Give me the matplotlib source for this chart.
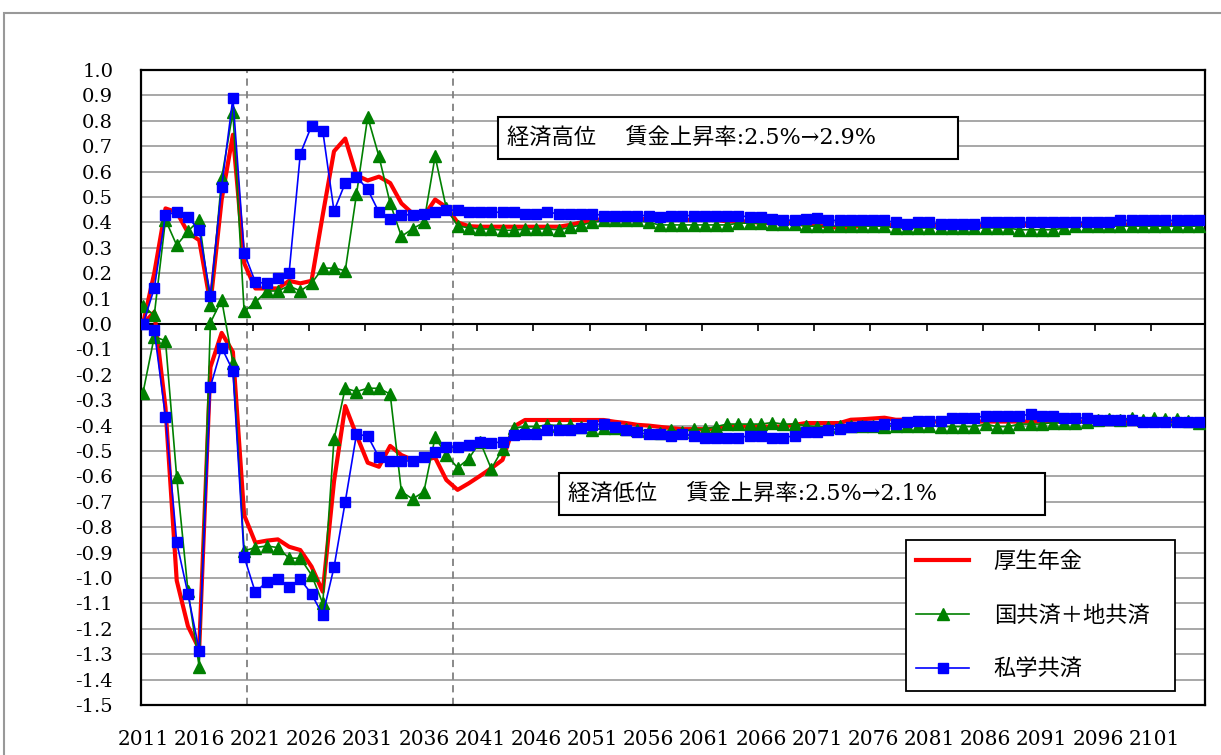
import numpy as np
import matplotlib
matplotlib.use("Agg")
import matplotlib.pyplot as plt
from matplotlib.patches import Rectangle

plt.rcParams['axes.unicode_minus'] = False

# ===============================
# DATA
# ===============================
years = list(range(2011, 2106))
xtick_years = list(range(2011, 2102, 5))

labels = ["厚生年金", "国共済＋地共済", "私学共済"]
text_high = "経済高位　 賃金上昇率:2.5%→2.9%"
text_low = "経済低位　 賃金上昇率:2.5%→2.1%"

# 経済高位
kosei_high = [
    0.00, 0.20, 0.455, 0.44, 0.36, 0.33, 0.08, 0.49, 0.745, 0.24,
    0.14, 0.14, 0.14, 0.17, 0.16, 0.17, 0.43, 0.68, 0.73, 0.585,
    0.565, 0.58, 0.555, 0.475, 0.435, 0.425, 0.49, 0.46, 0.40, 0.385,
    0.383, 0.383, 0.383, 0.383, 0.383, 0.383, 0.383, 0.383, 0.39, 0.40,
    0.408, 0.413, 0.413, 0.413, 0.413, 0.413, 0.413, 0.413, 0.41, 0.41,
    0.41, 0.41, 0.404, 0.404, 0.404, 0.397, 0.397, 0.397, 0.397, 0.39,
    0.39, 0.383, 0.378, 0.378, 0.39, 0.39, 0.39, 0.39, 0.39, 0.39,
    0.39, 0.39, 0.39, 0.39, 0.39, 0.39, 0.39, 0.39, 0.39, 0.39,
    0.39, 0.39, 0.39, 0.39, 0.39, 0.39, 0.39, 0.39, 0.39, 0.39,
    0.39, 0.39, 0.39, 0.39, 0.39,
]
kyosai_high = [
    0.07, 0.035, 0.41, 0.31, 0.365, 0.41, 0.075, 0.575, 0.835, 0.05,
    0.085, 0.13, 0.13, 0.15, 0.13, 0.16, 0.22, 0.22, 0.21, 0.51,
    0.815, 0.66, 0.475, 0.345, 0.375, 0.40, 0.66, 0.455, 0.387, 0.378,
    0.374, 0.374, 0.369, 0.369, 0.374, 0.374, 0.374, 0.371, 0.38, 0.39,
    0.40, 0.408, 0.408, 0.408, 0.408, 0.40, 0.39, 0.39, 0.39, 0.39,
    0.39, 0.39, 0.39, 0.397, 0.397, 0.397, 0.393, 0.393, 0.393, 0.385,
    0.385, 0.385, 0.385, 0.385, 0.385, 0.385, 0.385, 0.378, 0.378, 0.378,
    0.378, 0.378, 0.378, 0.378, 0.378, 0.378, 0.378, 0.378, 0.371, 0.371,
    0.371, 0.371, 0.378, 0.385, 0.385, 0.385, 0.385, 0.385, 0.385, 0.385,
    0.385, 0.385, 0.385, 0.385, 0.385,
]
shigaku_high = [
    0.00, 0.14, 0.43, 0.44, 0.42, 0.37, 0.11, 0.54, 0.89, 0.28,
    0.165, 0.16, 0.18, 0.20, 0.67, 0.78, 0.76, 0.445, 0.555, 0.58,
    0.53, 0.44, 0.415, 0.43, 0.43, 0.435, 0.44, 0.45, 0.447, 0.44,
    0.44, 0.44, 0.44, 0.44, 0.434, 0.434, 0.44, 0.434, 0.434, 0.434,
    0.434, 0.427, 0.427, 0.427, 0.427, 0.427, 0.421, 0.427, 0.427, 0.427,
    0.427, 0.427, 0.427, 0.427, 0.421, 0.421, 0.414, 0.41, 0.408, 0.413,
    0.417, 0.408, 0.408, 0.408, 0.408, 0.408, 0.408, 0.40, 0.393, 0.40,
    0.40, 0.393, 0.393, 0.393, 0.393, 0.40, 0.40, 0.40, 0.40, 0.40,
    0.40, 0.40, 0.40, 0.40, 0.40, 0.40, 0.40, 0.408, 0.408, 0.408,
    0.408, 0.408, 0.408, 0.408, 0.408,
]

# 経済低位
kosei_low = [
    0.00, 0.047, -0.33, -1.01, -1.19, -1.28, -0.17, -0.035, -0.11, -0.752,
    -0.861, -0.853, -0.848, -0.877, -0.89, -0.955, -1.054, -0.62, -0.323, -0.437,
    -0.546, -0.562, -0.48, -0.516, -0.535, -0.535, -0.526, -0.614, -0.653, -0.627,
    -0.598, -0.568, -0.535, -0.404, -0.378, -0.378, -0.378, -0.378, -0.378, -0.378,
    -0.378, -0.378, -0.385, -0.39, -0.397, -0.40, -0.405, -0.41, -0.414, -0.414,
    -0.414, -0.414, -0.404, -0.404, -0.404, -0.404, -0.404, -0.404, -0.397, -0.39,
    -0.39, -0.39, -0.39, -0.377, -0.375, -0.372, -0.369, -0.377, -0.377, -0.377,
    -0.384, -0.384, -0.384, -0.384, -0.384, -0.384, -0.384, -0.384, -0.384, -0.384,
    -0.384, -0.384, -0.384, -0.384, -0.384, -0.384, -0.384, -0.384, -0.384, -0.384,
    -0.384, -0.384, -0.384, -0.384, -0.384,
]
kyosai_low = [
    -0.27, -0.05, -0.066, -0.604, -1.05, -1.35, 0.005, 0.095, -0.153, -0.893,
    -0.88, -0.874, -0.88, -0.922, -0.922, -0.988, -1.10, -0.454, -0.253, -0.266,
    -0.253, -0.253, -0.276, -0.66, -0.689, -0.66, -0.446, -0.515, -0.566, -0.53,
    -0.463, -0.57, -0.493, -0.41, -0.404, -0.404, -0.397, -0.40, -0.397, -0.404,
    -0.418, -0.41, -0.41, -0.414, -0.418, -0.42, -0.43, -0.418, -0.424, -0.414,
    -0.414, -0.404, -0.394, -0.394, -0.394, -0.394, -0.388, -0.394, -0.394, -0.40,
    -0.404, -0.404, -0.40, -0.40, -0.40, -0.40, -0.404, -0.40, -0.40, -0.40,
    -0.40, -0.404, -0.404, -0.404, -0.404, -0.394, -0.404, -0.404, -0.394, -0.394,
    -0.394, -0.388, -0.39, -0.39, -0.385, -0.377, -0.373, -0.377, -0.369, -0.377,
    -0.369, -0.375, -0.375, -0.382, -0.388,
]
shigaku_low = [
    0.00, -0.025, -0.365, -0.86, -1.063, -1.286, -0.247, -0.093, -0.184, -0.916,
    -1.057, -1.015, -1.005, -1.034, -1.005, -1.063, -1.146, -0.958, -0.70, -0.434,
    -0.441, -0.525, -0.54, -0.538, -0.54, -0.525, -0.505, -0.485, -0.485, -0.477,
    -0.463, -0.47, -0.463, -0.436, -0.432, -0.435, -0.418, -0.418, -0.418, -0.41,
    -0.397, -0.393, -0.407, -0.418, -0.427, -0.434, -0.434, -0.44, -0.434, -0.44,
    -0.447, -0.447, -0.447, -0.447, -0.44, -0.44, -0.447, -0.447, -0.44, -0.427,
    -0.425, -0.418, -0.412, -0.407, -0.403, -0.40, -0.393, -0.393, -0.386, -0.38,
    -0.38, -0.38, -0.369, -0.369, -0.369, -0.362, -0.362, -0.362, -0.362, -0.355,
    -0.362, -0.362, -0.37, -0.37, -0.37, -0.377, -0.377, -0.377, -0.377, -0.386,
    -0.386, -0.386, -0.386, -0.386, -0.386,
]

# ===============================
# FIGURE
# ===============================
NUM_FONT = 'DejaVu Serif'
JP_FONT = ['DejaVu Serif', 'Noto Sans CJK JP']
LEG_FONT = ['Noto Sans CJK JP', 'DejaVu Sans']

fig = plt.figure(figsize=(12.21, 7.55), dpi=100)
ax = fig.add_axes([141 / 1221, 50 / 755, 1064 / 1221, 635 / 755])

# outer chart-area border
fig.add_artist(Rectangle((4 / 1221, -0.05), 1.2, 1 - 13 / 755 + 0.05,
                         transform=fig.transFigure, fill=False,
                         ec='#999999', lw=1.5, clip_on=False))

red = dict(color='#ff0000', lw=3.0, zorder=3)
green = dict(color='#008000', lw=1.2, marker='^', ms=8, zorder=4)
blue = dict(color='#0000ff', lw=1.2, marker='s', ms=6.5, zorder=5)

ax.plot(years, kosei_high, label=labels[0], **red)
ax.plot(years, kyosai_high, label=labels[1], **green)
ax.plot(years, shigaku_high, label=labels[2], **blue)
ax.plot(years, kosei_low, **red)
ax.plot(years, kyosai_low, **green)
ax.plot(years, shigaku_low, **blue)

ax.set_xlim(2010.82, 2105.53)
ax.set_ylim(-1.5, 1.0)

yt = np.round(np.arange(-1.5, 1.001, 0.1), 1)
ax.set_yticks(yt)
ax.set_yticklabels([f"{abs(v):.1f}" if v == 0 else f"{v:.1f}" for v in yt],
                   fontname=NUM_FONT, fontsize=14)
ax.set_xticks(xtick_years)
ax.set_xticklabels([str(y) for y in xtick_years], fontname=NUM_FONT, fontsize=14.5)
ax.tick_params(axis='y', length=0, pad=20)
ax.tick_params(axis='x', length=0, pad=18)

ax.yaxis.grid(True, color='#a0a0a0', lw=1.3)
ax.set_axisbelow(True)
for s in ax.spines.values():
    s.set_color('black')
    s.set_linewidth(1.6)

# zero axis with its tick marks
ax.axhline(0, color='black', lw=1.5, zorder=2)
ax.vlines(np.array(xtick_years[1:]) - 0.25, -0.027, 0, color='black', lw=1.2, zorder=2)

# period separators
for xv in (2020.27, 2038.55):
    ax.axvline(xv, color='#808080', ls=(0, (4, 3)), lw=1.3, zorder=1)

# scenario boxes
for (x0, y0, w, h, tx, ty, s) in [
        (0.3355, 0.8598, 0.4325, 0.0662, 0.344, 0.893, text_high),
        (0.393, 0.299, 0.4566, 0.0662, 0.401, 0.332, text_low)]:
    ax.add_patch(Rectangle((x0, y0), w, h, transform=ax.transAxes,
                           fc='white', ec='black', lw=1.5, zorder=6))
    ax.text(tx, ty, s, transform=ax.transAxes, family=JP_FONT, fontsize=16,
            va='center', ha='left', zorder=7)

leg = ax.legend(loc='upper left', bbox_to_anchor=(0.719, 0.0315, 0.253, 0.2285),
                mode='expand', frameon=True, fancybox=False, edgecolor='black',
                framealpha=1, borderpad=0.45, labelspacing=1.4, handlelength=2.4,
                handletextpad=1.1, borderaxespad=0,
                prop={'family': LEG_FONT, 'size': 16})
leg.get_frame().set_linewidth(1.3)
leg.set_zorder(8)

fig.savefig("out.png", dpi=100)
